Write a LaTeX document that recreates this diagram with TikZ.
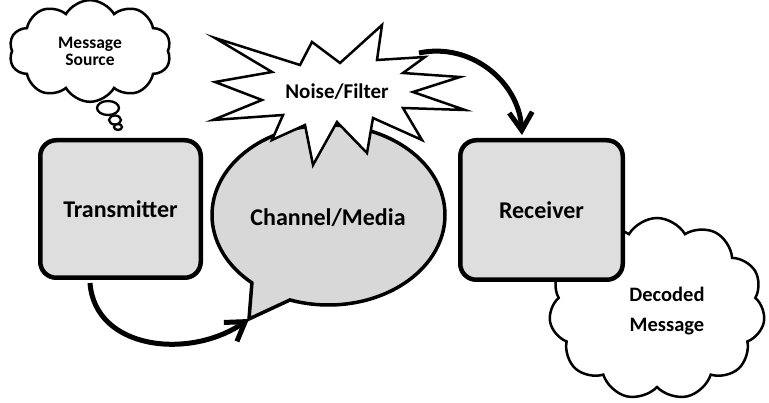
\documentclass[tikz,border=0pt]{standalone}
\usepackage{fontspec}
\setmainfont{Carlito}
\usetikzlibrary{shapes.symbols,shapes.geometric,arrows.meta}
\definecolor{boxgray}{RGB}{222,222,222}
\definecolor{bubblegray}{RGB}{216,216,216}
\begin{document}
\begin{tikzpicture}[x=1pt,y=1pt,yscale=-1,
  box/.style={draw, line width=4.5pt, fill=boxgray, rounded corners=16pt,
    font=\fontsize{24}{28}\selectfont\bfseries, inner sep=0pt},
  cloudsty/.style={cloud, draw, fill=white, line width=2.5pt, inner sep=0pt, align=center},
  thought/.style={ellipse, draw, fill=white, line width=2.3pt, inner sep=0pt},
  bubblesty/.style={draw, line width=3.5pt, fill=bubblegray, line join=miter},
  starsty/.style={draw, line width=2.5pt, fill=white, line join=miter},
  lbl/.style={font=\fontsize{#1}{#1}\selectfont\bfseries, inner sep=0pt, align=center},
  arr/.style={line width=5pt, -{Straight Barb[length=18pt,width=23pt]}}
]
\useasboundingbox (0,0) rectangle (769,403);

% message source cloud and thought bubbles
\node[cloudsty, cloud puffs=10, cloud puff arc=120, minimum width=162pt, minimum height=88pt,
  font=\fontsize{17.5}{17}\selectfont\bfseries] (src) at (90,51) {Message\\Source};
\node[thought, minimum width=22pt, minimum height=14pt] (t1) at (108,108) {};
\node[thought, minimum width=12pt, minimum height=9pt] (t2) at (115,120) {};
\node[thought, minimum width=8pt, minimum height=6pt] (t3) at (118,127) {};

% transmitter
\node[box, minimum width=160.5pt, minimum height=137.5pt] (tx) at (120.5,209) {Transmitter};

% decoded message cloud (behind receiver)
\node[cloudsty, cloud puffs=11, cloud puff arc=120, minimum width=216pt, minimum height=182pt] (dec) at (657,309) {};
\node[lbl=20.5, font=\fontsize{20.5}{30}\selectfont\bfseries] (dectext) at (667,311) {Decoded\\Message};

% receiver
\node[box, minimum width=162.5pt, minimum height=139.5pt] (rx) at (541.5,210) {Receiver};

% channel / media speech bubble
\coordinate (bc) at (328.5,215);
\coordinate (tailtip) at (249,319);
\path[bubblesty] (bc) ++(131.1:116.5pt and 90pt)
  arc[start angle=131.1, end angle=469.3, x radius=116.5pt, y radius=90pt]
  -- (tailtip) -- cycle;
\node[lbl=24] (ch) at (328,218) {Channel/Media};

% noise / filter star
\path[starsty] (215,38) -- (300,65) -- (312,42) -- (340,63) -- (382,25) -- (377,60)
  -- (425,57) -- (403,73) -- (460,77) -- (413,92) -- (465,110) -- (403,108)
  -- (422,140) -- (373,118) -- (367,153) -- (337,122) -- (313,165) -- (305,125)
  -- (272,140) -- (283,115) -- (213,120) -- (262,100) -- (215,82) -- (272,72) -- cycle;
\node[lbl=21] (noise) at (337,92) {Noise/Filter};

% connectors
\coordinate (txout) at (90,283);
\coordinate (nsout) at (419,53);
\coordinate (rxin) at (522,135);
\draw[arr] (txout) .. controls (95,350) and (190,360) .. (tailtip);
\draw[arr] (nsout) .. controls (470,42) and (519,81) .. (rxin);
\end{tikzpicture}
\end{document}
